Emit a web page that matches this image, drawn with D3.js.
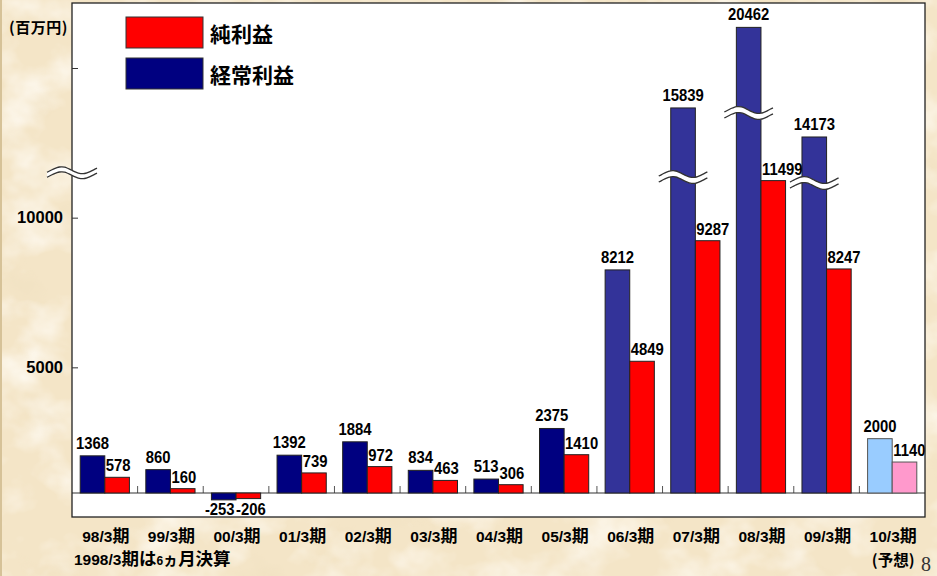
<!DOCTYPE html>
<html>
<head>
<meta charset="utf-8">
<script src="https://cdn.jsdelivr.net/npm/d3@7/dist/d3.min.js"></script>
<style>
  html, body { margin: 0; padding: 0; background: #f3e3c3; }
  svg { display: block; }
  .num { font-family: "Liberation Sans", Arial, sans-serif; font-weight: bold; fill: #000; }
  .jp  { font-family: "Noto Sans CJK JP", "Noto Sans CJK SC", sans-serif; font-weight: bold; fill: #000; }
</style>
</head>
<body>
<svg id="chart" width="937" height="576"></svg>
<script>
// ---- data (百万円) ----
const categories = ["98/3期", "99/3期", "00/3期", "01/3期", "02/3期", "03/3期", "04/3期",
                    "05/3期", "06/3期", "07/3期", "08/3期", "09/3期", "10/3期"];
const ordinaryProfit = [1368, 860, -253, 1392, 1884, 834, 513, 2375, 8212, 15839, 20462, 14173, 2000];
const netProfit      = [578, 160, -206, 739, 972, 463, 306, 1410, 4849, 9287, 11499, 8247, 1140];
const forecastPeriods = ["10/3期"];
const forecastNote = "(予想)";

const seriesNames = ["経常利益", "純利益"];
const unitLabel = "(百万円)";
const axisTicks = [5000, 10000, 15000];
const axisTickLabels = ["5000", "10000", ""];

// bars whose scale is compressed above a break, and where the break mark sits (in value units)
const brokenBars = [
  { cat: "07/3期", at: 11630 },
  { cat: "08/3期", at: 15550 },
  { cat: "09/3期", at: 11410 }
];
const axisBreakAt = 11500;
const pageNumber = "8";

// ---- layout ----
const W = 937, H = 576;
const plot = { left: 72, right: 925, top: 3, bottom: 517, zeroY: 493 };

const svg = d3.select("#chart");

// parchment background
const defs = svg.append("defs");
const paper = defs.append("filter").attr("id", "paper")
  .attr("x", 0).attr("y", 0).attr("width", "100%").attr("height", "100%");
paper.append("feTurbulence").attr("type", "fractalNoise")
  .attr("baseFrequency", "0.016 0.02").attr("numOctaves", 4).attr("seed", 7).attr("result", "n");
paper.append("feColorMatrix").attr("in", "n").attr("type", "matrix")
  .attr("values", "0 0 0 0 1  0 0 0 0 0.97  0 0 0 0 0.91  2.2 0 0 0 -1.0").attr("result", "light");
paper.append("feColorMatrix").attr("in", "n").attr("type", "matrix")
  .attr("values", "0 0 0 0 0.86  0 0 0 0 0.74  0 0 0 0 0.52  0 -1.6 0 0 0.66").attr("result", "dark");
const merge = paper.append("feMerge");
merge.append("feMergeNode").attr("in", "dark");
merge.append("feMergeNode").attr("in", "light");

svg.append("rect").attr("width", W).attr("height", H).attr("fill", "#f4e5c7");
svg.append("rect").attr("width", W).attr("height", H).attr("fill", "#fff").attr("filter", "url(#paper)");
svg.append("rect").attr("x", 0).attr("y", 0).attr("width", 2).attr("height", H).attr("fill", "#d6c298");

// ---- scales ----
const x = d3.scaleBand().domain(categories).range([plot.left, plot.right]);
const xSeries = d3.scaleBand().domain(["ordinary", "net"])
  .range([0, x.bandwidth()]).paddingOuter(1 / 3);

// value scale for the bars: linear up to 12000, compressed above the break
const y = d3.scaleLinear()
  .domain([0, 12000, 14000, 21000])
  .range([plot.zeroY, 167, 140, 18]);

// scale used for the value axis ticks
const yAxisScale = d3.scaleLinear().domain([0, 15000]).range([plot.bottom, 68]);

const rows = categories.map((c, i) => ({
  cat: c,
  ordinary: ordinaryProfit[i],
  net: netProfit[i],
  forecast: forecastPeriods.includes(c)
}));

const fiscalYear = c => { const yy = +c.slice(0, 2); return yy > 50 ? 1900 + yy : 2000 + yy; };
function fillFor(series, d) {
  if (d.forecast) return series === "ordinary" ? "#99ccff" : "#ff99cc";
  if (series === "net") return "#ff0000";
  return fiscalYear(d.cat) >= 2006 ? "#333399" : "#000080";
}

// ---- plot area ----
svg.append("rect")
  .attr("x", plot.left).attr("y", plot.top)
  .attr("width", plot.right - plot.left).attr("height", plot.bottom - plot.top)
  .attr("fill", "#fff");

// category separators rising from the zero line
svg.append("g").selectAll("line")
  .data(categories.slice(1))
  .join("line")
  .attr("x1", d => x(d)).attr("x2", d => x(d))
  .attr("y1", y(0) - 7).attr("y2", y(0))
  .attr("stroke", "#555").attr("stroke-width", 1);

// zero line
svg.append("line")
  .attr("x1", plot.left).attr("x2", plot.right)
  .attr("y1", y(0)).attr("y2", y(0))
  .attr("stroke", "#333").attr("stroke-width", 1.2);

// bars
const barG = svg.append("g");
["ordinary", "net"].forEach(s => {
  barG.selectAll("rect." + s)
    .data(rows)
    .join("rect")
    .attr("class", s)
    .attr("x", d => x(d.cat) + xSeries(s))
    .attr("width", xSeries.bandwidth())
    .attr("y", d => Math.min(y(d[s]), y(0)))
    .attr("height", d => Math.abs(y(d[s]) - y(0)))
    .attr("fill", d => fillFor(s, d))
    .attr("stroke", d => d.forecast ? "#555" : "#222")
    .attr("stroke-width", 1);
});

// wavy break mark: two parallel waves with white between
function breakMark(g, cx, cy, w, gap, amp) {
  const x0 = cx - w / 2;
  const pts = d3.range(0, 21).map(k => k / 20);
  const wave = off => pts.map(t => [x0 + t * w, cy + off - amp * Math.sin(2 * Math.PI * 1.2 * t - 0.6)]);
  const top = wave(-gap / 2), bottom = wave(gap / 2);
  const line = d3.line().curve(d3.curveBasis);
  g.append("path")
    .attr("d", line(top.concat(bottom.slice().reverse())))
    .attr("fill", "#fff").attr("stroke", "none");
  g.append("path").attr("d", line(top)).attr("fill", "none").attr("stroke", "#333").attr("stroke-width", 1.3);
  g.append("path").attr("d", line(bottom)).attr("fill", "none").attr("stroke", "#333").attr("stroke-width", 1.3);
}

const breakG = svg.append("g");
brokenBars.forEach(b => {
  const cx = x(b.cat) + xSeries("ordinary") + xSeries.bandwidth() / 2;
  breakMark(breakG, cx, y(b.at), xSeries.bandwidth() + 24, 6, 3.5);
});

// value labels
function valueLabel(px, py, anchor, text) {
  svg.append("text")
    .attr("class", "num")
    .attr("transform", `translate(${px},${py}) scale(0.9,1)`)
    .attr("text-anchor", anchor)
    .style("font-size", "16.5px")
    .text(text);
}
rows.forEach(d => {
  const xo = x(d.cat) + xSeries("ordinary");
  const xn = x(d.cat) + xSeries("net");
  const bw = xSeries.bandwidth();
  if (d.ordinary >= 0) valueLabel(xo + bw / 2, y(d.ordinary) - 7, "middle", d.ordinary);
  else valueLabel(xo + bw / 2 - 4, y(d.ordinary) + 15, "middle", d.ordinary);
  if (d.net >= 0) valueLabel(xn + 1, y(d.net) - 6, "start", d.net);
  else valueLabel(xn, y(d.ordinary) + 15, "start", d.net);
});

// plot frame
svg.append("rect")
  .attr("x", plot.left).attr("y", plot.top)
  .attr("width", plot.right - plot.left).attr("height", plot.bottom - plot.top)
  .attr("fill", "none").attr("stroke", "#222").attr("stroke-width", 1.3);

// value axis
const yAxis = svg.append("g")
  .attr("transform", `translate(${plot.left},0)`)
  .call(d3.axisLeft(yAxisScale)
    .tickValues(axisTicks)
    .tickFormat((d, i) => axisTickLabels[i])
    .tickSizeInner(-6).tickSizeOuter(0).tickPadding(9));
yAxis.select(".domain").remove();
yAxis.selectAll("line").attr("stroke", "#333");
yAxis.selectAll("text")
  .attr("class", "num")
  .attr("fill", "#000")
  .style("font-size", "16.5px");
yAxis.attr("font-family", null).attr("font-size", null);

breakMark(svg.append("g"), plot.left, yAxisScale(axisBreakAt), 50, 5, 3.5);

// mixed latin / japanese text
function mixedText(sel, str, latinSize, jpSize) {
  str.split(/([^\x00-\x7F]+)/).filter(s => s.length).forEach(run => {
    const ascii = /^[\x00-\x7F]+$/.test(run);
    sel.append("tspan")
      .attr("class", ascii ? "num" : "jp")
      .style("font-size", (ascii ? latinSize : jpSize) + "px")
      .text(run);
  });
  return sel;
}

// category labels
rows.forEach(d => {
  const cx = x(d.cat) + x.bandwidth() / 2;
  const t = svg.append("text").attr("x", cx + 1).attr("y", 542).attr("text-anchor", "middle");
  mixedText(t, d.cat, 15.5, 17);
  if (d.forecast) {
    svg.append("text").attr("class", "jp")
      .attr("x", cx + 1).attr("y", 566).attr("text-anchor", "middle")
      .style("font-size", "15.5px")
      .text(forecastNote);
  }
});

// footnote
const foot = svg.append("text").attr("x", 74).attr("y", 565);
[["1998/3", "num", 15.5], ["期は", "jp", 17.5], ["6", "num", 12], ["ヵ", "jp", 15], ["月決算", "jp", 17.5]]
  .forEach(([t, cls, size]) => foot.append("tspan").attr("class", cls).style("font-size", size + "px").text(t));

// unit label
svg.append("text").attr("class", "jp")
  .attr("x", 9).attr("y", 33)
  .style("font-size", "15px").style("letter-spacing", "0.5px")
  .text(unitLabel);

// legend
const legend = svg.append("g");
[{ name: seriesNames[1], fill: "#ff0000", y: 17 }, { name: seriesNames[0], fill: "#000080", y: 58 }]
  .forEach(l => {
    legend.append("rect")
      .attr("x", 126).attr("y", l.y).attr("width", 77).attr("height", 31)
      .attr("fill", l.fill).attr("stroke", "#333").attr("stroke-width", 1);
    legend.append("text").attr("class", "jp")
      .attr("x", 210).attr("y", l.y + 16)
      .attr("dominant-baseline", "central")
      .style("font-size", "21px")
      .text(l.name);
  });

// page number
svg.append("text")
  .attr("x", 921).attr("y", 571)
  .attr("font-family", "'Liberation Serif', 'Times New Roman', serif")
  .attr("font-size", 20).attr("fill", "#333")
  .text(pageNumber);
</script>
</body>
</html>
